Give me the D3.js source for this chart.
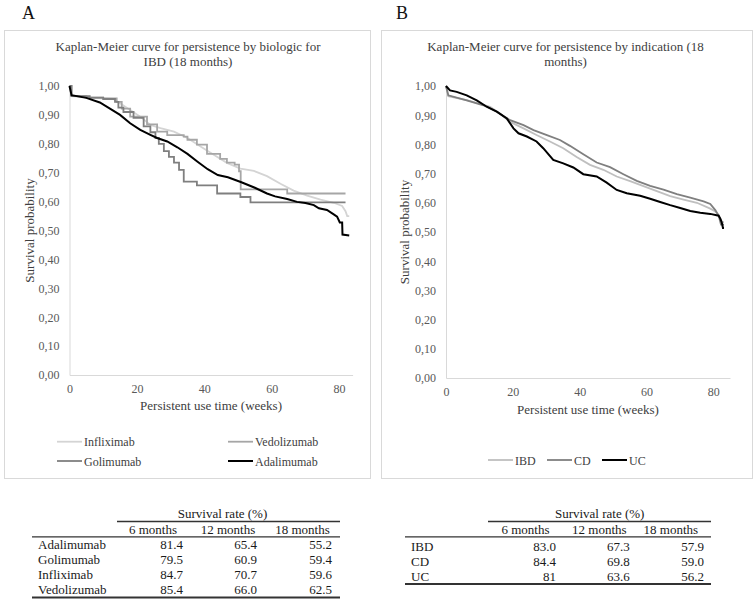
<!DOCTYPE html>
<html>
<head>
<meta charset="utf-8">
<script src="https://cdn.jsdelivr.net/npm/d3@7"></script>
<style>
	body { margin:0; background:#fff; }
	svg { display:block; }
	svg text { font-family: 'Liberation Serif', 'Times New Roman', serif !important; }
</style>
</head>
<body>
<svg id="chart" width="756" height="602"></svg>
<script>
// --------------------------------
// data
// [week, survival probability]
// --------------------------------

var weekTicks = [0, 20, 40, 60, 80];
var probTicks = [0, 0.1, 0.2, 0.3, 0.4, 0.5, 0.6, 0.7, 0.8, 0.9, 1.0];

// panel A : by biologic
var infliximab = [[0,1.00],[0.6,0.965],[6,0.96],[13,0.955],[15,0.94],[18,0.917],[21,0.894],[24,0.865],[27,0.854],[31,0.842],[35,0.82],[39,0.79],[42.8,0.762],[46.7,0.734],[50.7,0.714],[54.7,0.706],[58.6,0.688],[62.6,0.662],[66.5,0.638],[70.5,0.621],[74.5,0.607],[78.4,0.596],[80.9,0.585],[81.9,0.567],[82.4,0.55],[83,0.55]];
var vedolizumab = [[0,1.00],[0.6,0.965],[5,0.96],[10,0.957],[14,0.945],[15.5,0.922],[18,0.894],[23,0.867],[26,0.842],[29,0.83],[33.9,0.825],[35,0.814],[37.8,0.797],[40.8,0.765],[44.7,0.748],[46.7,0.735],[49,0.728],[50.3,0.705],[50.8,0.642],[64.6,0.628],[81.9,0.628]];
var golimumab = [[0,1.00],[0.6,0.965],[6,0.96],[10,0.955],[13.5,0.945],[14.5,0.925],[16,0.91],[19,0.89],[22,0.86],[24,0.84],[25.5,0.82],[26.5,0.80],[28,0.775],[29.5,0.755],[31,0.735],[32.5,0.71],[33.9,0.669],[37.8,0.656],[43.8,0.628],[50.7,0.616],[53.7,0.597],[81.9,0.597]];
var adalimumab = [[0,1.00],[0.6,0.968],[5,0.959],[9,0.943],[12,0.922],[15,0.90],[18,0.871],[21,0.848],[24,0.831],[26,0.82],[29,0.808],[32,0.788],[35,0.765],[38,0.738],[41,0.712],[44,0.692],[47,0.684],[51,0.667],[55,0.648],[58.6,0.628],[61,0.618],[64.6,0.609],[67.5,0.599],[70,0.595],[72.5,0.588],[74,0.577],[76.4,0.571],[78.4,0.556],[79.4,0.548],[80.2,0.528],[80.9,0.528],[81,0.486],[83,0.483]];

// panel B : by indication
var ibd = [[0,1.00],[0.7,0.965],[6.2,0.952],[13.2,0.929],[16.2,0.905],[19.2,0.877],[23.2,0.855],[27.1,0.832],[31.1,0.81],[35.1,0.787],[39.1,0.757],[43.1,0.73],[47.1,0.713],[51.1,0.69],[55.1,0.674],[59.1,0.657],[63.1,0.64],[67.1,0.623],[71.1,0.611],[75.1,0.6],[79.1,0.58],[80.6,0.57],[81.6,0.557],[82.6,0.534],[83.2,0.534]];
var cd = [[0,1.00],[0.7,0.968],[6.2,0.951],[11.2,0.934],[15.2,0.912],[19.2,0.883],[23.2,0.866],[26.2,0.849],[30.2,0.832],[34.1,0.815],[37.1,0.795],[41.1,0.766],[45.1,0.738],[49.1,0.722],[53.1,0.698],[57.1,0.675],[61.1,0.658],[65.1,0.645],[69.1,0.63],[73.1,0.618],[77.1,0.605],[79.1,0.596],[80.6,0.575],[81.6,0.556],[82.3,0.525],[83.2,0.525]];
var uc = [[0,1.00],[1.2,0.985],[3.2,0.98],[6.2,0.968],[9.2,0.951],[12.2,0.929],[15.2,0.912],[18.2,0.889],[20.2,0.855],[21.7,0.838],[24.2,0.827],[27.1,0.81],[29.1,0.787],[32.1,0.747],[35.1,0.735],[38.1,0.721],[41.1,0.698],[45.1,0.69],[48.1,0.669],[51.1,0.644],[54.1,0.633],[58.1,0.624],[61.1,0.614],[64.1,0.603],[67.1,0.592],[70.1,0.582],[73.1,0.572],[76.1,0.566],[79.1,0.562],[81.6,0.556],[82.1,0.546],[82.5,0.534],[82.9,0.514],[83.2,0.514]];

// tables
var tableCols = ["6 months", "12 months", "18 months"];
var tableARows = ["Adalimumab", "Golimumab", "Infliximab", "Vedolizumab"];
var tableAValues = [["81.4","65.4","55.2"], ["79.5","60.9","59.4"], ["84.7","70.7","59.6"], ["85.4","66.0","62.5"]];
var tableBRows = ["IBD", "CD", "UC"];
var tableBValues = [["83.0","67.3","57.9"], ["84.4","69.8","59.0"], ["81","63.6","56.2"]];

// --------------------------------
// drawing
// --------------------------------

var szFont = "'Liberation Serif', 'Times New Roman', serif";
var svg = d3.select("#chart");
svg.append("rect").attr("width",756).attr("height",602).attr("fill","#fff");

function drawPanel(o){
	var g = svg.append("g").style("font-family",szFont);

	g.append("rect")
		.attr("x",o.box[0]+0.5).attr("y",o.box[1]+0.5)
		.attr("width",o.box[2]).attr("height",o.box[3])
		.attr("fill","none").attr("stroke","#d9d9d9");

	g.append("text")
		.attr("x",o.letterX).attr("y",18.5)
		.attr("font-size",18).attr("fill","#111")
		.text(o.letter);

	o.title.forEach(function(t,i){
		g.append("text")
			.attr("x",o.titleX).attr("y",50.5+i*15.5)
			.attr("text-anchor","middle").attr("font-size",13).attr("fill","#404040")
			.text(t);
	});

	var x = d3.scaleLinear().domain([0,o.xMax]).range(o.xRange);
	var y = d3.scaleLinear().domain([0,1]).range(o.yRange);

	var gy = g.append("g")
		.attr("transform","translate("+x(0)+",0)")
		.call(d3.axisLeft(y).tickValues(probTicks).tickSize(0).tickPadding(10)
			.tickFormat(function(d){ return d3.format(".2f")(d).replace(".",","); }));
	var gx = g.append("g")
		.attr("transform","translate(0,"+y(0)+")")
		.call(d3.axisBottom(x).tickValues(weekTicks).tickSize(0).tickPadding(9.5));

	[gx,gy].forEach(function(a){
		a.attr("font-family",null).style("font-family",szFont).attr("font-size",12);
		a.select(".domain").attr("stroke","#d9d9d9");
		a.selectAll("text").attr("fill","#595959");
	});

	g.append("text")
		.attr("x",(o.xRange[0]+o.xRange[1])/2).attr("y",o.xTitleY)
		.attr("text-anchor","middle").attr("font-size",13).attr("fill","#404040")
		.text("Persistent use time (weeks)");
	g.append("text")
		.attr("transform","translate("+o.yTitleX+","+((o.yRange[0]+o.yRange[1])/2)+") rotate(-90)")
		.attr("dy","0.35em")
		.attr("text-anchor","middle").attr("font-size",13).attr("fill","#404040")
		.text("Survival probability");

	var line = d3.line()
		.x(function(d){ return x(d[0]); })
		.y(function(d){ return y(d[1]); });

	o.series.forEach(function(s){
		line.curve(s.step ? d3.curveStepAfter : d3.curveLinear);
		g.append("path")
			.attr("d",line(s.data))
			.attr("fill","none")
			.attr("stroke",s.color)
			.attr("stroke-width",s.width)
			.attr("stroke-linejoin","miter");
	});

	// legend
	o.series.forEach(function(s){
		g.append("line")
			.attr("x1",s.lx).attr("x2",s.lx+25)
			.attr("y1",s.ly).attr("y2",s.ly)
			.attr("stroke",s.color).attr("stroke-width",s.width);
		g.append("text")
			.attr("x",s.lx+27).attr("y",s.ly+4.5)
			.attr("font-size",12).attr("fill","#404040")
			.text(s.name);
	});
}

function drawTable(o){
	var g = svg.append("g").style("font-family",szFont).attr("font-size",13).attr("fill","#1a1a1a");

	g.append("text")
		.attr("x",o.spanX).attr("y",517.5).attr("text-anchor","middle")
		.text("Survival rate (%)");
	g.append("line")
		.attr("x1",o.topLine[0]).attr("x2",o.right).attr("y1",521.5).attr("y2",521.5)
		.attr("stroke","#333").attr("stroke-width",1.5);

	tableCols.forEach(function(c,i){
		g.append("text")
			.attr("x",o.headX[i]).attr("y",534).attr("text-anchor","middle")
			.text(c);
	});
	g.append("line")
		.attr("x1",o.left).attr("x2",o.right).attr("y1",536.8).attr("y2",536.8)
		.attr("stroke","#333").attr("stroke-width",1.2);

	o.rows.forEach(function(r,j){
		var yb = o.row0 + j*15;
		g.append("text").attr("x",o.labelX).attr("y",yb).text(r);
		o.values[j].forEach(function(v,i){
			g.append("text")
				.attr("x",o.valX[i]).attr("y",yb).attr("text-anchor","end")
				.text(v);
		});
	});
	var yEnd = o.row0 + (o.rows.length-1)*15 + 3.5;
	g.append("line")
		.attr("x1",o.left).attr("x2",o.right).attr("y1",yEnd).attr("y2",yEnd)
		.attr("stroke","#333").attr("stroke-width",1.8);
}

drawPanel({
	letter:"A", letterX:22,
	box:[4,30,366,448],
	title:["Kaplan-Meier curve for persistence by biologic for","IBD (18 months)"],
	titleX:188,
	xMax:84, xRange:[69.5,352.6], yRange:[375,86],
	xTitleY:410, yTitleX:29,
	series:[
		{name:"Infliximab",  data:infliximab,  color:"#d4d4d4", width:1.8, lx:57,  ly:441.7},
		{name:"Vedolizumab", data:vedolizumab, color:"#a6a6a6", width:1.8, lx:228, ly:441.7, step:true},
		{name:"Golimumab",   data:golimumab,   color:"#7f7f7f", width:1.8, lx:57,  ly:461,   step:true},
		{name:"Adalimumab",  data:adalimumab,  color:"#000000", width:2,   lx:228, ly:461}
	]
});

drawPanel({
	letter:"B", letterX:396,
	box:[381,30,371,448],
	title:["Kaplan-Meier curve for persistence by indication (18","months)"],
	titleX:565.5,
	xMax:85, xRange:[446,730], yRange:[378,86],
	xTitleY:414, yTitleX:404,
	series:[
		{name:"IBD", data:ibd, color:"#bfbfbf", width:1.8, lx:488, ly:460},
		{name:"CD",  data:cd,  color:"#7f7f7f", width:1.8, lx:547, ly:460},
		{name:"UC",  data:uc,  color:"#000000", width:2,   lx:602, ly:460}
	]
});

drawTable({
	rows:tableARows, values:tableAValues,
	spanX:222.5, topLine:[117], left:32, right:340,
	headX:[153,228,302.5], valX:[183,257,332],
	labelX:38, row0:549
});

drawTable({
	rows:tableBRows, values:tableBValues,
	spanX:599.7, topLine:[488], left:405, right:711,
	headX:[525.5,599.3,670.8], valX:[556,629.7,704],
	labelX:411, row0:550.5
});
</script>
</body>
</html>
